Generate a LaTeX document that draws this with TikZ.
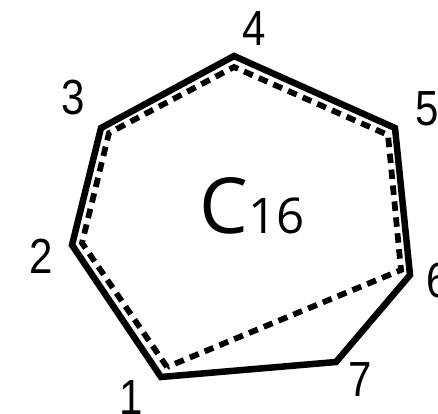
\documentclass[tikz,border=0pt]{standalone}
\usepackage{fontspec}
\setmainfont{Liberation Sans}
\newfontfamily\ringfont{Open Sans}
\begin{document}
\begin{tikzpicture}[x=0.2mm, y=-0.2mm,
  every node/.style={font=\fontsize{26}{26}\selectfont, inner sep=0pt},
  ring/.style={line width=1.3mm},
  inner/.style={line width=1.15mm, dash pattern=on 1.9mm off 1.3mm}]
  \useasboundingbox (0,0) rectangle (438,413);
  % Ring atoms
  \foreach \n/\x/\y in {1/161/377, 2/72/245, 3/101/128, 4/234/56, 5/395/128, 6/410/275, 7/336/362} {
    \coordinate (v\n) at (\x,\y);
  }
  \foreach \n/\x/\y in {1/167/367, 2/82/243, 3/109/133, 4/234/67, 5/388/135, 6/401/270} {
    \coordinate (d\n) at (\x,\y);
  }
  \draw[ring] (v1) -- (v2) -- (v3) -- (v4) -- (v5) -- (v6) -- (v7) -- cycle;
  \draw[inner] (d1) -- (d2) -- (d3) -- (d4) -- (d5) -- (d6) -- cycle;
  % Numbers
  \node[xscale=0.92, yscale=1.08] (l1) at (131,398) {1};
  \node[xscale=0.92, yscale=1.08] (l2) at (41,256) {2};
  \node[xscale=0.92, yscale=1.08] (l3) at (73,98) {3};
  \node[xscale=0.92, yscale=1.08] (l4) at (254,29) {4};
  \node[xscale=0.92, yscale=1.08] (l5) at (427,109) {5};
  \node[xscale=0.92, yscale=1.08] (l6) at (438,281) {6};
  \node[xscale=0.92, yscale=1.08] (l7) at (360,380) {7};
  \node[font=\ringfont\fontsize{44}{44}\selectfont, anchor=base west] (ring) at (199,233) {C{\fontsize{28}{28}\selectfont 16}};
\end{tikzpicture}
\end{document}
